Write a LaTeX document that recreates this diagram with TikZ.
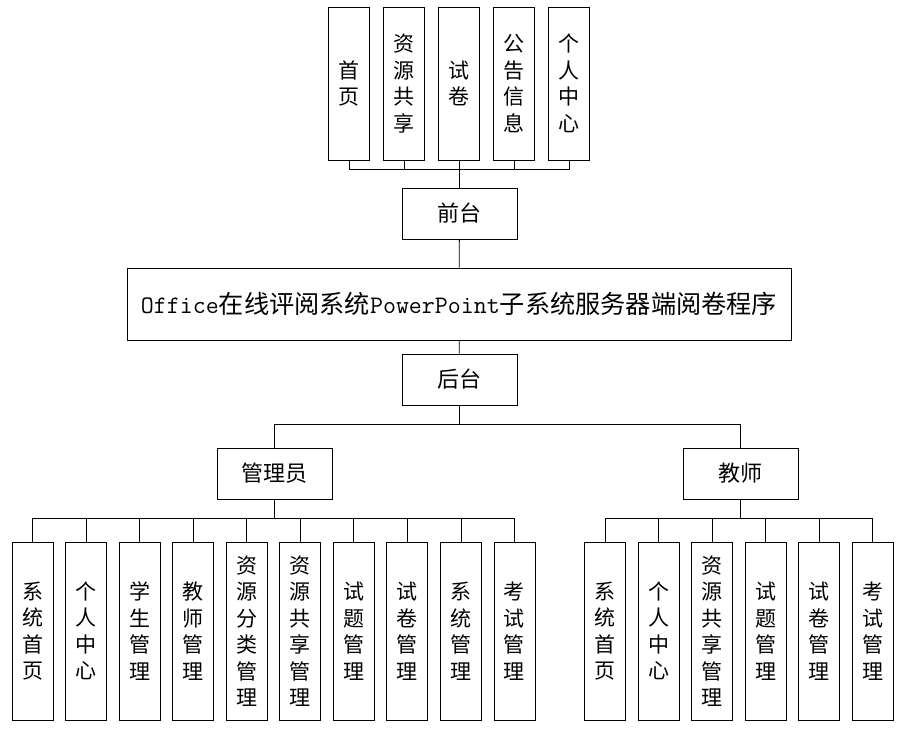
\documentclass[tikz,border=0pt]{standalone}
\usepackage{fontspec}
\setmainfont{Noto Sans CJK SC}
\usepackage{tikz}
\usetikzlibrary{positioning}

\begin{document}
\begin{tikzpicture}[x=1pt,y=-1pt,node distance=55pt,line width=0.8pt]
  \tikzstyle{tallbox}=[draw=black,inner sep=0pt,minimum width=41pt,minimum height=153pt,align=center,font=\fontsize{21}{26.5}\selectfont]
  \tikzstyle{lowbox}=[tallbox,minimum height=178pt]
  \tikzstyle{midbox}=[draw=black,inner sep=0pt,minimum width=115pt,minimum height=51pt,font=\fontsize{22}{26}\selectfont]
  \useasboundingbox (0,0) rectangle (904,732);

  % front end
  \node[tallbox] (t1) at (349,83.5) {首\\页};
  \node[tallbox, right of=t1] (t2) {资\\源\\共\\享};
  \node[tallbox, right of=t2] (t3) {试\\卷};
  \node[tallbox, right of=t3] (t4) {公\\告\\信\\息};
  \node[tallbox, right of=t4] (t5) {个\\人\\中\\心};

  \node[midbox] (qt) at (459.5,213.5) {前台};

  % main program
  \node[draw=black, inner sep=0pt, minimum width=664pt, minimum height=72pt,
        font=\fontsize{25.2}{28}\selectfont] (main) at (459,304)
        {{\ttfamily Office}在线评阅系统{\ttfamily PowerPoint}子系统服务器端阅卷程序};

  % back end
  \node[midbox] (ht) at (459.5,379.5) {后台};
  \node[midbox] (gly) at (274.5,473.5) {管理员};
  \node[midbox] (js) at (740.5,473.5) {教师};

  \begin{scope}[node distance=53.55pt]
  \node[lowbox] (a1) at (32.5,631) {系\\统\\首\\页};
  \node[lowbox, right of=a1] (a2) {个\\人\\中\\心};
  \node[lowbox, right of=a2] (a3) {学\\生\\管\\理};
  \node[lowbox, right of=a3] (a4) {教\\师\\管\\理};
  \node[lowbox, right of=a4] (a5) {资\\源\\分\\类\\管\\理};
  \node[lowbox, right of=a5] (a6) {资\\源\\共\\享\\管\\理};
  \node[lowbox, right of=a6] (a7) {试\\题\\管\\理};
  \node[lowbox, right of=a7] (a8) {试\\卷\\管\\理};
  \node[lowbox, right of=a8] (a9) {系\\统\\管\\理};
  \node[lowbox, right of=a9] (a10) {考\\试\\管\\理};

  \node[lowbox] (b1) at (605,631) {系\\统\\首\\页};
  \node[lowbox, right of=b1] (b2) {个\\人\\中\\心};
  \node[lowbox, right of=b2] (b3) {资\\源\\共\\享\\管\\理};
  \node[lowbox, right of=b3] (b4) {试\\题\\管\\理};
  \node[lowbox, right of=b4] (b5) {试\\卷\\管\\理};
  \node[lowbox, right of=b5] (b6) {考\\试\\管\\理};
  \end{scope}

  % bus points
  \coordinate (topbus) at (459.5,169);
  \coordinate (backbus) at (459.5,424);
  \coordinate (glybus) at (274.5,518);
  \coordinate (jsbus) at (740.5,518);

  % edges
  \draw (qt) -- (topbus);
  \foreach \i in {1,...,5} \draw (topbus) -| (t\i);
  \draw (qt) -- (main);
  \draw (main) -- (ht);
  \draw (ht) -- (backbus);
  \draw (backbus) -| (gly);
  \draw (backbus) -| (js);
  \draw (gly) -- (glybus);
  \foreach \i in {1,...,10} \draw (glybus) -| (a\i);
  \draw (js) -- (jsbus);
  \foreach \i in {1,...,6} \draw (jsbus) -| (b\i);

\end{tikzpicture}
\end{document}
